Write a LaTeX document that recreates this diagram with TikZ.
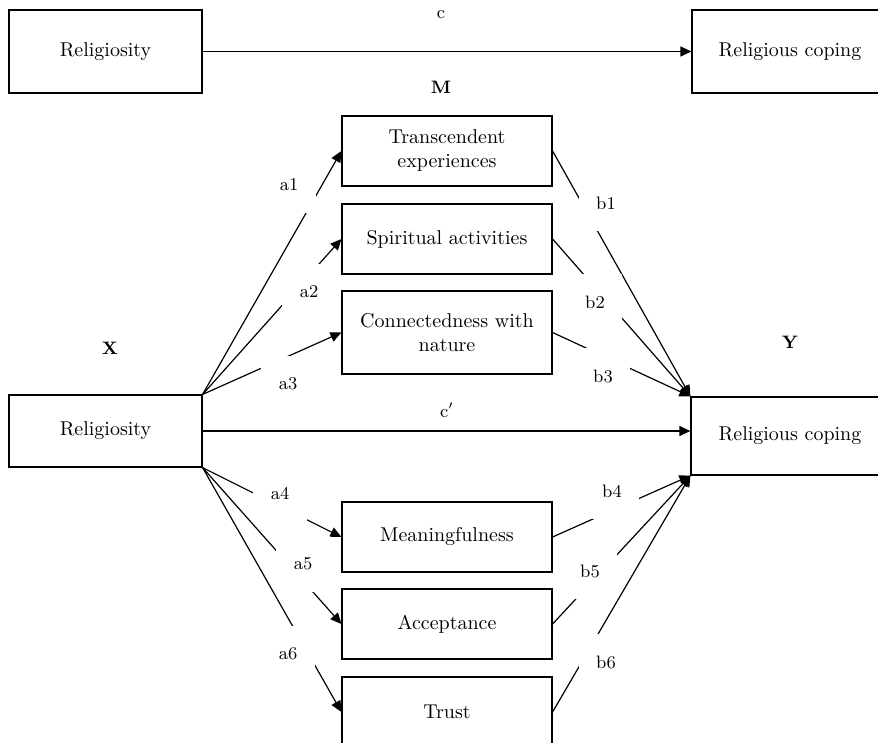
\documentclass[tikz,border=0pt]{standalone}
\usetikzlibrary{arrows.meta}

\begin{document}
\begin{tikzpicture}[x=0.5pt, y=-0.5pt, line width=0.6pt,
  every node/.style={font=\normalsize},
  box/.style={draw, align=center, inner sep=2pt},
  med/.style={box, minimum width=105pt, minimum height=35pt},
  coef/.style={fill=white, minimum width=27pt, minimum height=28pt, inner sep=0pt, font=\small},
  arr/.style={-{Triangle[length=5.5pt, width=5pt]}}]
  \clip (0,0) rectangle (878,743);
  \useasboundingbox (0,0) rectangle (878,743);

  % total effect
  \node[box, minimum width=96.5pt, minimum height=41.5pt] (relTop) at (105.5,51.5) {Religiosity};
  \node[box, minimum width=98pt, minimum height=41.5pt] (copTop) at (790,51.5) {Religious coping};
  \draw[arr] (relTop) -- (copTop);
  \node[font=\small] (cTop) at (441,15) {c};
  \node[font=\small\bfseries] (mTitle) at (441,87) {M};

  % mediation model
  \node[font=\small\bfseries] (xTitle) at (110,348) {X};
  \node[font=\small\bfseries] (yTitle) at (790,342) {Y};
  \node[box, minimum width=96.5pt, minimum height=36pt] (relX) at (105.5,431) {Religiosity};
  \node[box, minimum width=99pt, minimum height=39pt] (copY) at (790,436) {Religious coping};

  \node[med] (m1) at (447,151) {Transcendent\\experiences};
  \node[med] (m2) at (447,239) {Spiritual activities};
  \node[med, minimum height=41.5pt] (m3) at (447,332.5) {Connectedness with\\nature};
  \node[med] (m4) at (447,537) {Meaningfulness};
  \node[med] (m5) at (447,624) {Acceptance};
  \node[med] (m6) at (447,712) {Trust};

  \draw[arr] (relX) -- (relX -| copY.west);
  \node[font=\small] (cDir) at (447,410) {c$'$};

  \foreach \m in {m1,m2,m3} {
    \draw[arr] (relX.north east) -- (\m.west);
    \draw[arr] (\m.east) -- (copY.north west);
  }
  \foreach \m in {m4,m5,m6} {
    \draw[arr] (relX.south east) -- (\m.west);
    \draw[arr] (\m.east) -- (copY.south west);
  }

  % path labels
  \node[coef] (a1) at (289,185) {a1};
  \node[coef] (a2) at (309,292) {a2};
  \node[coef] (a3) at (288,384) {a3};
  \node[coef] (a4) at (280,494) {a4};
  \node[coef] (a5) at (303,564) {a5};
  \node[coef] (a6) at (288,654) {a6};
  \node[coef] (b1) at (606,203) {b1};
  \node[coef] (b2) at (595,302) {b2};
  \node[coef] (b3) at (603,376) {b3};
  \node[coef] (b4) at (612,491) {b4};
  \node[coef] (b5) at (590,571) {b5};
  \node[coef] (b6) at (606,662) {b6};
\end{tikzpicture}
\end{document}
